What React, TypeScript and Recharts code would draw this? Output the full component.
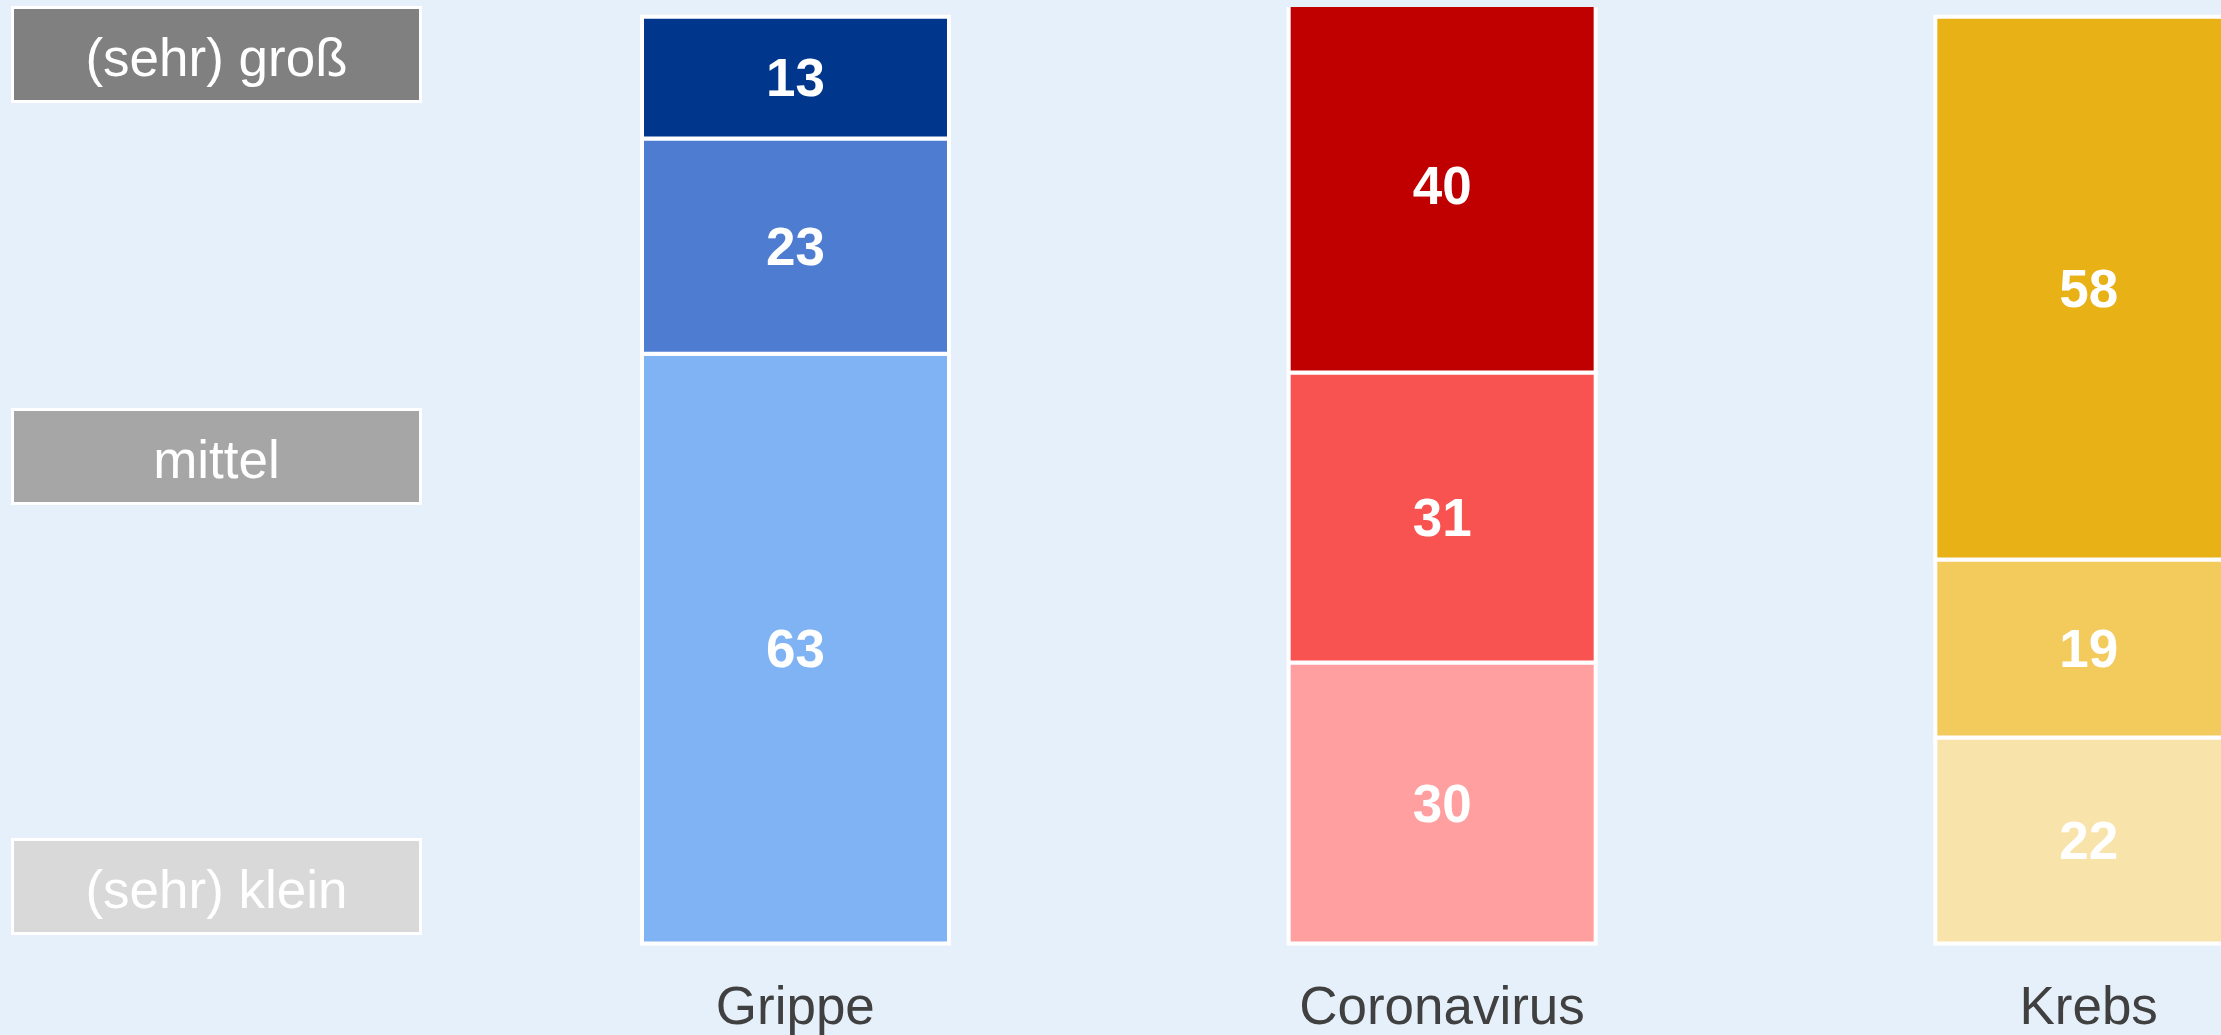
import { Bar, BarChart, Cell, LabelList, XAxis, YAxis } from "recharts";

const categories = ["Grippe", "Coronavirus", "Krebs"];
const kleinValues = [63, 30, 22];
const mittelValues = [23, 31, 19];
const grossValues = [13, 40, 58];
const levelLabels = ["(sehr) groß", "mittel", "(sehr) klein"];

const FONT = "'Liberation Sans', Arial, sans-serif";

const palette = {
  klein: ["#80B3F3", "#FF9F9F", "#F8E4AB"],
  mittel: ["#4E7CD0", "#F85350", "#F3CA5C"],
  gross: ["#00378C", "#C00000", "#E8B115"],
} as const;

const legendFills = ["#808080", "#A6A6A6", "#D9D9D9"];
const legendTops = [6, 408, 838];

const data = categories.map((name, i) => ({
  name,
  klein: kleinValues[i],
  mittel: mittelValues[i],
  gross: grossValues[i],
}));

const CategoryTick = ({ x, y, payload }: any) => (
  <text x={x} y={y + 81} textAnchor="middle" fill="#404040" fontSize={53} fontFamily={FONT}>
    {payload.value}
  </text>
);

// gray boxes on the left, top to bottom
const LevelLegend = () => (
  <>
    {levelLabels.map((label, i) => (
      <div
        key={label}
        style={{
          position: "absolute",
          left: 11,
          top: legendTops[i],
          width: 411,
          height: 97,
          boxSizing: "border-box",
          border: "3px solid #ffffff",
          paddingTop: 6,
          background: legendFills[i],
          color: "#ffffff",
          fontSize: 53,
          fontFamily: FONT,
          display: "flex",
          alignItems: "center",
          justifyContent: "center",
        }}
      >
        {label}
      </div>
    ))}
  </>
);

const labelStyle = { fill: "#ffffff", fontSize: 53, fontWeight: 700, fontFamily: FONT };

export default function App() {
  return (
    <div
      style={{
        position: "absolute",
        left: 0,
        top: 0,
        width: 2221,
        height: 1035,
        overflow: "hidden",
        background: "#E6F0FA",
        fontFamily: FONT,
      }}
    >
      <LevelLegend />
      {/* plot is clipped at y=7, the Coronavirus stack runs past it */}
      <div style={{ position: "absolute", left: 0, top: 7, width: 2221, height: 1028, overflow: "hidden" }}>
        <div style={{ position: "absolute", left: 0, top: -9.4 }}>
          <BarChart
            width={2412}
            height={1037.4}
            data={data}
            margin={{ top: 0, right: 0, left: 472, bottom: 0 }}
            barSize={307}
          >
            <XAxis
              dataKey="name"
              axisLine={false}
              tickLine={false}
              tickSize={0}
              tickMargin={0}
              height={92}
              tick={<CategoryTick />}
              interval={0}
            />
            <YAxis hide domain={[0, "dataMax"]} />
            <Bar dataKey="klein" stackId="a" stroke="#ffffff" strokeWidth={4} isAnimationActive={false}>
              {data.map((d, i) => (
                <Cell key={d.name} fill={palette.klein[i]} />
              ))}
              <LabelList dataKey="klein" position="center" style={labelStyle} />
            </Bar>
            <Bar dataKey="mittel" stackId="a" stroke="#ffffff" strokeWidth={4} isAnimationActive={false}>
              {data.map((d, i) => (
                <Cell key={d.name} fill={palette.mittel[i]} />
              ))}
              <LabelList dataKey="mittel" position="center" style={labelStyle} />
            </Bar>
            <Bar dataKey="gross" stackId="a" stroke="#ffffff" strokeWidth={4} isAnimationActive={false}>
              {data.map((d, i) => (
                <Cell key={d.name} fill={palette.gross[i]} />
              ))}
              <LabelList dataKey="gross" position="center" style={labelStyle} />
            </Bar>
          </BarChart>
        </div>
      </div>
    </div>
  );
}
